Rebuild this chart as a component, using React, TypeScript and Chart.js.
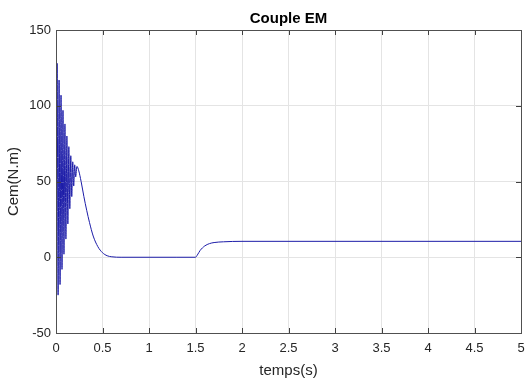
import React, { useEffect, useRef } from "react";
import { Chart, registerables } from "chart.js";

Chart.register(...registerables);

const timeS: number[] = [
  0, 0.012, 0.0225, 0.033, 0.0435, 0.054, 0.0645, 0.075, 0.0855, 0.096,
  0.1065, 0.117, 0.1275, 0.138, 0.1485, 0.159, 0.1695, 0.18, 0.1905, 0.201,
  0.2115, 0.225, 0.245, 0.27, 0.3, 0.33, 0.36, 0.4, 0.45, 0.5, 0.55, 0.6,
  0.7, 1.0, 1.3, 1.5, 1.52, 1.55, 1.6, 1.65, 1.7, 1.8, 2.0, 3.0, 4.0, 5.0,
];
const cemValues: number[] = [
  0, 128, -25, 117, -18, 107, -8, 97, 2, 88,
  12, 80, 22, 73, 32, 67, 40, 63, 47, 61,
  53, 60, 57, 50, 40, 31, 23, 14, 7, 3, 1, 0.3,
  0, 0, 0, 0, 1.5, 4.5, 7.5, 9, 9.7, 10.2, 10.5, 10.5, 10.5, 10.5,
];
const xTicks: number[] = [0, 0.5, 1, 1.5, 2, 2.5, 3, 3.5, 4, 4.5, 5];
const yTicks: number[] = [-50, 0, 50, 100, 150];
const titleText = "Couple EM";
const xTitle = "temps(s)";
const yTitle = "Cem(N.m)";

const FONT = "'Liberation Sans', Arial, sans-serif";

export default function App() {
  const ref = useRef<HTMLCanvasElement | null>(null);
  useEffect(() => {
    if (!ref.current) return;
    const innerTicks = {
      id: "innerTicks",
      afterDraw(chart: any) {
        const ctx = chart.ctx;
        const a = chart.chartArea;
        const xs = chart.scales.x;
        const ys = chart.scales.y;
        ctx.save();
        ctx.strokeStyle = "#404040";
        ctx.lineWidth = 1;
        ctx.beginPath();
        xTicks.forEach((v) => {
          const px = Math.round(xs.getPixelForValue(v)) + 0.5;
          ctx.moveTo(px, a.top);
          ctx.lineTo(px, a.top + 5);
          ctx.moveTo(px, a.bottom);
          ctx.lineTo(px, a.bottom - 5);
        });
        yTicks.forEach((v) => {
          const py = Math.round(ys.getPixelForValue(v)) + 0.5;
          ctx.moveTo(a.left, py);
          ctx.lineTo(a.left + 5, py);
          ctx.moveTo(a.right, py);
          ctx.lineTo(a.right - 5, py);
        });
        ctx.stroke();
        ctx.strokeStyle = "#505050";
        ctx.strokeRect(Math.round(a.left) + 0.5, Math.round(a.top) + 0.5, Math.round(a.right - a.left), Math.round(a.bottom - a.top));
        ctx.restore();
      },
    };
    const chart = new Chart(ref.current, {
      type: "line",
      data: {
        datasets: [
          {
            data: timeS.map((t, i) => ({ x: t, y: cemValues[i] })),
            borderColor: "#1c1ca8",
            borderWidth: 1,
            pointRadius: 0,
            cubicInterpolationMode: "monotone",
            fill: false,
          },
        ],
      },
      options: {
        animation: false,
        responsive: false,
        maintainAspectRatio: false,
        layout: { padding: { left: 0, right: 4, top: 0, bottom: 0 } },
        plugins: {
          legend: { display: false },
          tooltip: { enabled: false },
          title: {
            display: true,
            fullSize: false,
            text: titleText,
            color: "#000",
            font: { family: FONT, size: 15, weight: "bold" },
            padding: { top: 10, bottom: 2 },
          },
        },
        scales: {
          x: {
            type: "linear",
            min: 0,
            max: 5,
            afterBuildTicks(scale: any) {
              scale.ticks = xTicks.map((v) => ({ value: v }));
            },
            afterFit(scale: any) {
              scale.height = 47;
              scale.paddingRight = 0;
              scale.paddingLeft = 0;
            },
            ticks: {
              color: "#262626",
              font: { family: FONT, size: 13 },
              padding: 8,
              maxRotation: 0,
              autoSkip: false,
              callback: (v: any) => String(v),
            },
            grid: { color: "#e4e4e4", drawTicks: false },
            border: { display: false },
            title: {
              display: true,
              text: xTitle,
              color: "#262626",
              font: { family: FONT, size: 15 },
              padding: { top: 4, bottom: 0 },
            },
          },
          y: {
            type: "linear",
            min: -50,
            max: 150,
            afterBuildTicks(scale: any) {
              scale.ticks = yTicks.map((v) => ({ value: v }));
            },
            afterFit(scale: any) {
              scale.width = 56;
            },
            ticks: {
              color: "#262626",
              font: { family: FONT, size: 13 },
              padding: 5,
              autoSkip: false,
              callback: (v: any) => String(v),
            },
            grid: { color: "#e4e4e4", drawTicks: false },
            border: { display: false },
            title: {
              display: true,
              text: yTitle,
              color: "#262626",
              font: { family: FONT, size: 15 },
              padding: { top: 5, bottom: 0 },
            },
          },
        },
      },
      plugins: [innerTicks],
    } as any);
    return () => chart.destroy();
  }, []);
  return (
    <div style={{ position: "absolute", left: 0, top: 0, width: 525, height: 380, background: "#fff" }}>
      <canvas ref={ref} width={525} height={380} style={{ width: 525, height: 380 }} />
    </div>
  );
}
